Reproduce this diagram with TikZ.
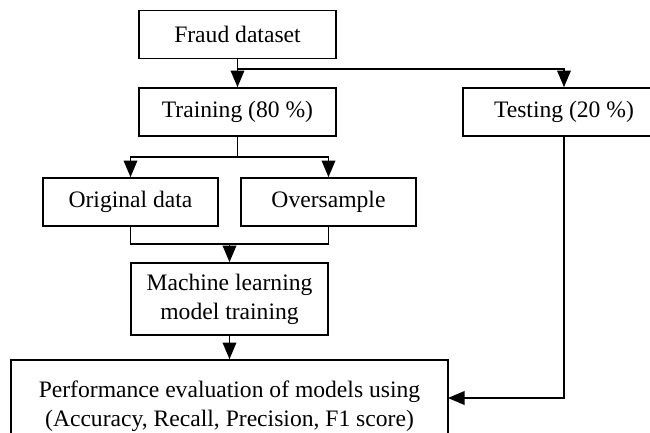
\documentclass[tikz,border=0pt]{standalone}
\usepackage{fontspec}
\setmainfont{Liberation Serif}
\usetikzlibrary{arrows}

\begin{document}
\begin{tikzpicture}[x=0.5pt,y=-0.5pt,>=triangle 45,line width=0.9pt,
                    font=\fontsize{11.8}{14.5}\selectfont,
                    box/.style={draw,align=center,inner sep=0pt,minimum height=24pt}]
  \useasboundingbox (0,0) rectangle (650,433);

  \node[box,minimum width=98.5pt] (F) at (237.5,34.5) {Fraud dataset};
  \node[box,minimum width=98.5pt] (T) at (237.5,112)  {Training (80 \%)};
  \node[box,minimum width=101pt]  (S) at (564,112)    {Testing (20 \%)};
  \node[box,minimum width=87.5pt] (O) at (130.5,202)  {Original data};
  \node[box,minimum width=87.5pt] (V) at (328.5,202)  {Oversample};
  \node[box,minimum width=98.5pt,minimum height=36pt] (M) at (229.5,299)
       {Machine learning\\model training};
  \node[box,minimum width=218.5pt,minimum height=46pt] (P) at (229.5,406)
       {Performance evaluation of models using\\(Accuracy, Recall, Precision, F1 score)};

  \coordinate (f1) at (237.5,69);
  \coordinate (t1) at (237.5,157);
  \coordinate (m1) at (229.5,244);
  \coordinate (p1) at (448,398);

  \draw[->] (F) -- (T);
  \draw[->] (f1) -| (S.north);
  \draw (T) -- (t1);
  \draw[->] (t1) -| (O.north);
  \draw[->] (t1) -| (V.north);
  \draw (O.south) |- (m1);
  \draw (V.south) |- (m1);
  \draw[->] (m1) -- (M.north);
  \draw[->] (M) -- (P);
  \draw[->] (S.south) |- (p1);
\end{tikzpicture}
\end{document}
